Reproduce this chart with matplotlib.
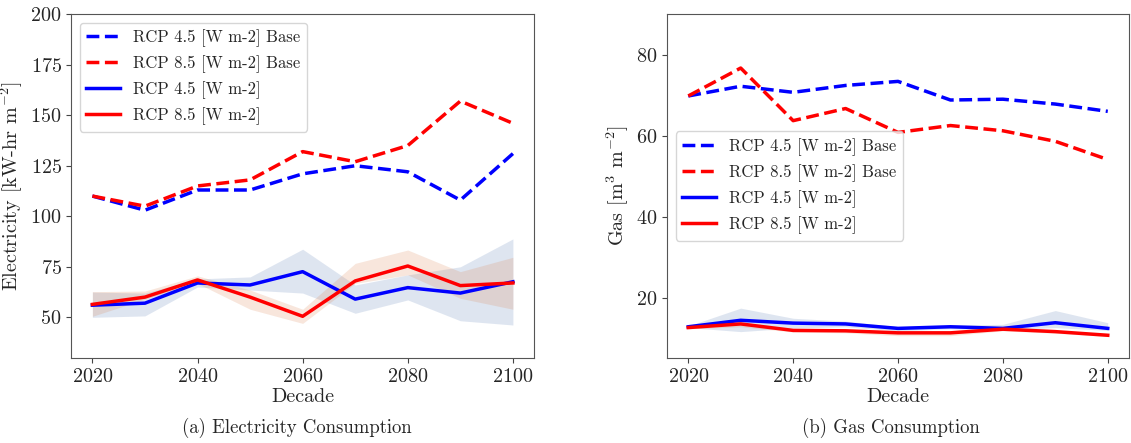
import numpy as np
import matplotlib
matplotlib.use('Agg')
from matplotlib import pyplot as plt

plt.rcParams['font.family'] = 'serif'
plt.rcParams['font.serif'] = ['cmr10', 'DejaVu Serif']
plt.rcParams['mathtext.fontset'] = 'cm'
plt.rcParams['axes.formatter.use_mathtext'] = True
plt.rcParams['axes.unicode_minus'] = False
plt.rcParams['text.color'] = '#262626'
plt.rcParams['axes.labelcolor'] = '#262626'
plt.rcParams['xtick.labelcolor'] = '#262626'
plt.rcParams['ytick.labelcolor'] = '#262626'

decades = [2020, 2030, 2040, 2050, 2060, 2070, 2080, 2090, 2100]

# electricity [kW-hr m-2]
elec_base_45 = [110, 103, 113, 113, 121, 125, 122, 108, 131]
elec_base_85 = [110, 105, 115, 118, 132, 127, 135, 157, 146]
elec_45 = [56, 57, 67, 66, 72.6, 59, 64.7, 62, 67.6]
elec_85 = [56.4, 60, 68.5, 60, 50.5, 68, 75.4, 65.7, 67]
elec_45_lo = [50, 50.7, 65, 63.5, 62, 52, 58.6, 48.3, 46.2]
elec_45_hi = [62.5, 62, 69, 70, 83.7, 66, 71, 75, 88.8]
elec_85_lo = [50.5, 59, 66.8, 54, 47, 66.8, 71, 59.4, 54]
elec_85_hi = [62.7, 63, 70.5, 63.5, 54, 76.7, 83.3, 72.6, 79.7]

# gas [m3 m-2]
gas_base_45 = [69.8, 72.2, 70.7, 72.4, 73.4, 68.8, 69.0, 67.8, 66.0]
gas_base_85 = [69.8, 76.7, 63.7, 66.7, 60.8, 62.5, 61.2, 58.6, 54.1]
gas_45 = [12.8, 14.4, 13.7, 13.5, 12.4, 12.8, 12.4, 13.8, 12.4]
gas_85 = [12.6, 13.5, 11.9, 11.8, 11.3, 11.3, 12.2, 11.6, 10.7]
gas_45_lo = [12.6, 11.6, 12.5, 12.8, 11.8, 12.3, 12.0, 12.6, 11.9]
gas_45_hi = [13.0, 17.4, 14.9, 14.2, 12.8, 13.2, 13.4, 16.8, 13.8]
gas_85_lo = [12.3, 12.8, 11.5, 11.3, 10.6, 10.6, 11.8, 11.2, 10.4]
gas_85_hi = [12.9, 14.0, 12.3, 12.2, 11.8, 11.8, 12.6, 12.0, 11.0]

fig = plt.figure(figsize=(11.31, 4.43), dpi=100)
ax1 = fig.add_axes([0.0631, 0.192, 0.409, 0.776])
ax2 = fig.add_axes([0.590, 0.192, 0.408, 0.776])

def draw(ax, base45, base85, s45, s85, lo45, hi45, lo85, hi85):
    ax.fill_between(decades, lo45, hi45, color='#4C72B0', alpha=0.18, lw=0)
    ax.fill_between(decades, lo85, hi85, color='#DD8452', alpha=0.2, lw=0)
    ax.plot(decades, base45, 'b--', lw=2.5, label='RCP 4.5 [W m-2] Base')
    ax.plot(decades, base85, 'r--', lw=2.5, label='RCP 8.5 [W m-2] Base')
    ax.plot(decades, s45, 'b-', lw=2.5, label='RCP 4.5 [W m-2]')
    ax.plot(decades, s85, 'r-', lw=2.5, label='RCP 8.5 [W m-2]')
    ax.set_xlabel('Decade', fontsize=14.5, labelpad=2)
    ax.tick_params(labelsize=14.5, color='#444444')
    for s in ax.spines.values():
        s.set_color('#555555')
    ax.set_xticks([2020, 2040, 2060, 2080, 2100])

draw(ax1, elec_base_45, elec_base_85, elec_45, elec_85,
     elec_45_lo, elec_45_hi, elec_85_lo, elec_85_hi)
ax1.set_ylim(29.9, 200)
ax1.set_ylabel(r'Electricity [kW-hr m$^{-2}$]', fontsize=14.5)
ax1.legend(loc='upper left', fontsize=12)

draw(ax2, gas_base_45, gas_base_85, gas_45, gas_85,
     gas_45_lo, gas_45_hi, gas_85_lo, gas_85_hi)
ax2.set_ylim(5.1, 90)
ax2.set_yticks([20, 40, 60, 80])
ax2.set_ylabel(r'Gas [m$^3$ m$^{-2}$]', fontsize=14.5)
ax2.legend(loc='center left', fontsize=12)

fig.text(0.262, 0.022, '(a) Electricity Consumption', ha='center', fontsize=13.5)
fig.text(0.788, 0.022, '(b) Gas Consumption', ha='center', fontsize=13.5)

fig.savefig('out.png', dpi=100)
